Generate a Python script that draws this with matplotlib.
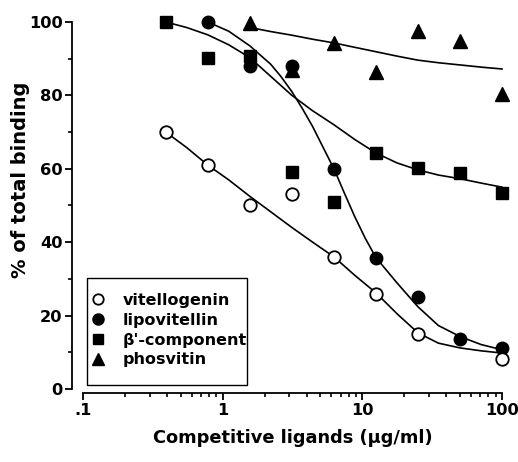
import matplotlib
matplotlib.use("Agg")
import matplotlib.pyplot as plt
from matplotlib.lines import Line2D
from matplotlib.patches import Rectangle

plt.rcParams['font.family'] = ['DejaVu Sans']
plt.rcParams['font.weight'] = 'bold'

# measured data points
vit_x = [0.39, 0.78, 1.56, 3.125, 6.25, 12.5, 25, 100]
vit_y = [70, 61, 50, 53, 36, 26, 15, 8.2]
lipo_x = [0.78, 1.56, 3.125, 6.25, 12.5, 25, 50, 100]
lipo_y = [100, 88, 88, 60, 35.7, 25, 13.7, 11.2]
beta_x = [0.39, 0.78, 1.56, 3.125, 6.25, 12.5, 25, 50, 100]
beta_y = [100, 90.2, 90.8, 59, 51, 64.3, 60.2, 58.8, 53.5]
phos_x = [1.56, 3.125, 6.25, 12.5, 25, 50, 100]
phos_y = [99.8, 87, 94.3, 86.3, 97.5, 94.8, 80.3]

# fitted curves
vit_cx = [0.39, 0.55, 0.78, 1.1, 1.56, 2.2, 3.125, 4.4, 6.25, 8.8, 12.5, 17.7, 25, 35, 50, 71, 100]
vit_cy = [70, 65.8, 61, 57, 52.5, 48.3, 44, 40, 36, 31, 26.2, 20.5, 15.3, 12.5, 11.2, 10.4, 9.8]
lipo_cx = [0.78, 1.1, 1.56, 2.2, 2.6, 3.125, 3.7, 4.4, 5.2, 6.25, 7.4, 8.8, 10.5, 12.5, 17.7, 25, 35, 50, 71, 100]
lipo_cy = [100, 97.5, 93.5, 88.5, 85.2, 81, 76.5, 71.5, 66, 60, 53.5, 47, 41, 35.8, 28.9, 22.4, 17.3, 14.3, 12.1, 10.7]
beta_cx = [0.39, 0.55, 0.78, 1.1, 1.56, 2.2, 3.125, 4.4, 6.25, 8.8, 12.5, 17.7, 25, 35, 50, 71, 100]
beta_cy = [100, 98.5, 96.5, 93.8, 90.3, 85.2, 80, 75.8, 72, 68, 64.3, 61.6, 59.7, 58.3, 57.3, 56.1, 55]
phos_cx = [1.56, 2.2, 3.125, 4.4, 6.25, 8.8, 12.5, 17.7, 25, 35, 50, 71, 100]
phos_cy = [98.5, 97.4, 96.4, 95.3, 94.3, 93.1, 91.9, 90.7, 89.6, 88.9, 88.3, 87.7, 87.2]

series_names = ['vitellogenin', 'lipovitellin', "\u03b2'-component", 'phosvitin']
x_ticks = [0.1, 1, 10, 100]
x_ticklabels = ['.1', '1', '10', '100']
y_ticks = [0, 20, 40, 60, 80, 100]
y_minor = [10, 30, 50, 70, 90]

fig = plt.figure(figsize=(5.18, 4.62), dpi=100)
ax = fig.add_axes([0.1608, 0.158, 0.8083, 0.7944])

lw = 1.2
for cx, cy in [(vit_cx, vit_cy), (lipo_cx, lipo_cy), (beta_cx, beta_cy), (phos_cx, phos_cy)]:
    ax.plot(cx, cy, color='black', lw=lw, zorder=2, clip_on=False, solid_joinstyle='round')

ms = 9
ax.plot(phos_x, phos_y, '^', color='black', ms=9.5, ls='none', zorder=3, clip_on=False)
ax.plot(beta_x, beta_y, 's', color='black', ms=8.5, ls='none', zorder=3, clip_on=False)
ax.plot(lipo_x, lipo_y, 'o', color='black', ms=ms, ls='none', zorder=4, clip_on=False)
ax.plot(vit_x, vit_y, 'o', mfc='white', mec='black', mew=1.3, ms=ms, ls='none', zorder=4, clip_on=False)

ax.set_xscale('log')
ax.set_xlim(0.1, 100)
ax.set_ylim(0, 100)
ax.set_xticks(x_ticks)
ax.set_xticklabels(x_ticklabels)
ax.set_yticks(y_ticks)
ax.set_yticks(y_minor, minor=True)
ax.yaxis.set_minor_formatter(matplotlib.ticker.NullFormatter())
ax.xaxis.set_minor_formatter(matplotlib.ticker.NullFormatter())

for s in ['top', 'right']:
    ax.spines[s].set_visible(False)
ax.spines['left'].set_position(('outward', 8))
ax.spines['bottom'].set_position(('outward', 3))
ax.spines['left'].set_linewidth(1.3)
ax.spines['bottom'].set_linewidth(1.3)
ax.tick_params(axis='both', which='major', length=5, width=1.3, labelsize=11.7, pad=2)
ax.tick_params(axis='both', which='minor', length=3, width=1.2)

ax.set_xlabel('Competitive ligands (\u03bcg/ml)', fontsize=12.8, fontweight='bold', labelpad=8)
ax.set_ylabel('% of total binding', fontsize=14, fontweight='bold', va='center')
ax.yaxis.set_label_coords(-0.151, 0.57)

handles = [
    Line2D([], [], marker='o', ls='none', mfc='white', mec='black', mew=1.3, ms=7.5),
    Line2D([], [], marker='o', ls='none', color='black', ms=8),
    Line2D([], [], marker='s', ls='none', color='black', ms=7.5),
    Line2D([], [], marker='^', ls='none', color='black', ms=8.5),
]
leg = fig.legend(handles, series_names, loc='upper left',
                 bbox_to_anchor=(89 / 518, (462 - 293) / 462), bbox_transform=fig.transFigure,
                 borderaxespad=0, frameon=False, prop={'size': 11.5, 'weight': 'bold'},
                 handlelength=1.1, handletextpad=1.0, labelspacing=0.3, borderpad=0)
fig.add_artist(Rectangle((87 / 518, (462 - 385) / 462), 160 / 518, 107 / 462,
                         transform=fig.transFigure, fill=False, lw=1.0, ec='black'))

fig.savefig('out.png', dpi=100)
